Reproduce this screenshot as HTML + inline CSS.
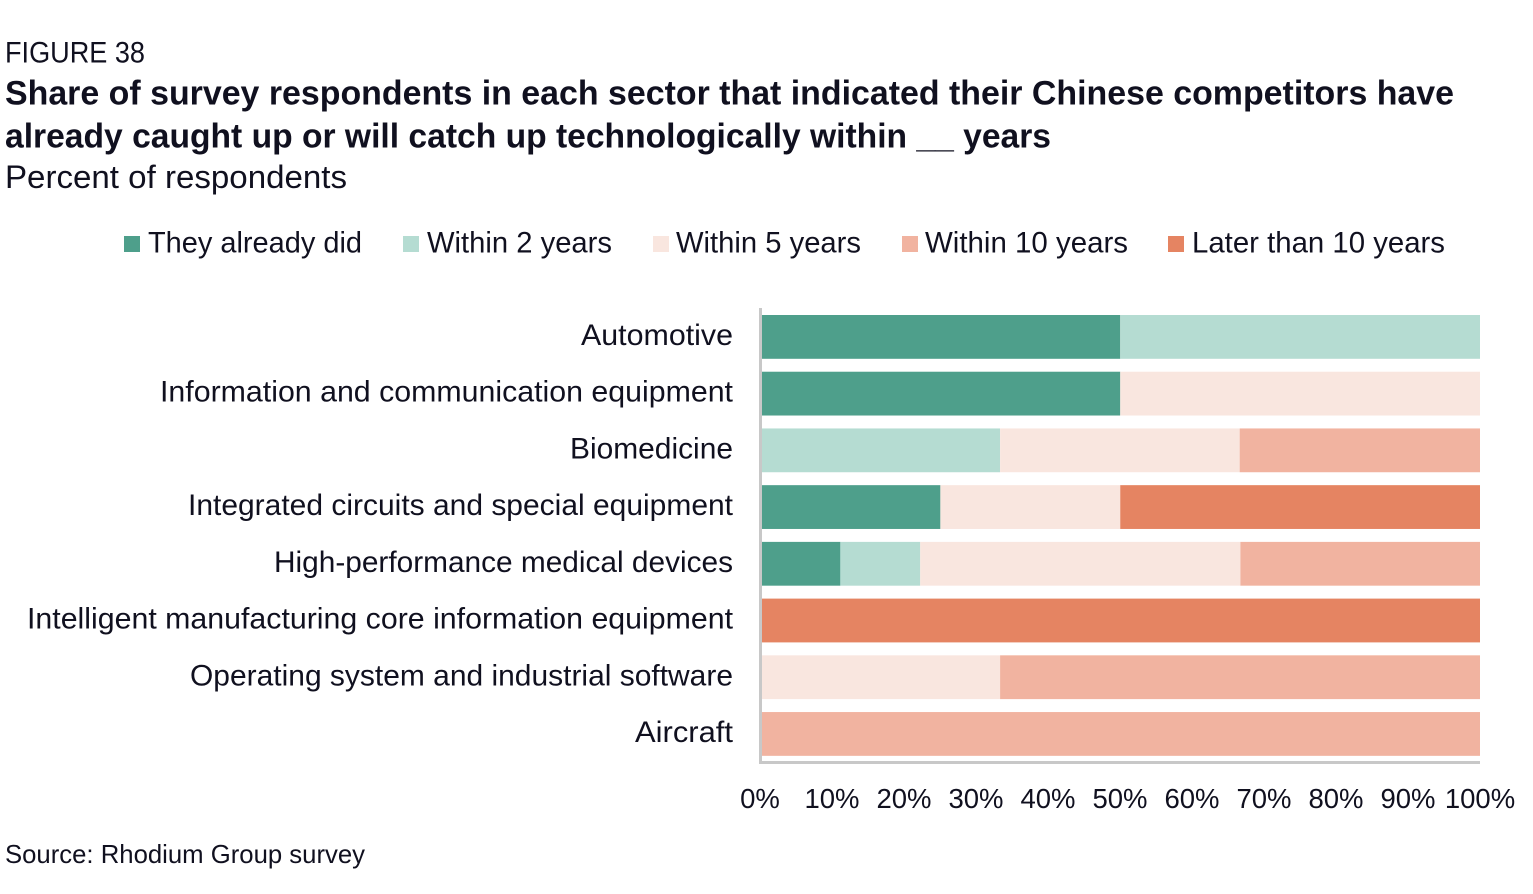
<!DOCTYPE html>
<html lang="en">
<head>
<meta charset="utf-8">
<title>Figure 38</title>
<style>
html,body{margin:0;padding:0;background:#fff;width:1533px;height:894px;overflow:hidden}
svg{display:block}
text{font-family:"Liberation Sans",sans-serif;fill:#10101f}
</style>
</head>
<body>
<svg id="chart" xmlns="http://www.w3.org/2000/svg" width="1533" height="894" viewBox="0 0 1533 894">
  <text x="5" y="62.5" font-size="30" textLength="140" lengthAdjust="spacingAndGlyphs">FIGURE 38</text>
  <text x="5" y="104.5" font-size="34" font-weight="bold" textLength="1449" lengthAdjust="spacingAndGlyphs">Share of survey respondents in each sector that indicated their Chinese competitors have</text>
  <text x="5" y="147.5" font-size="34" font-weight="bold" textLength="1046" lengthAdjust="spacingAndGlyphs">already caught up or will catch up technologically within __ years</text>
  <text x="5" y="188" font-size="32" textLength="342" lengthAdjust="spacingAndGlyphs">Percent of respondents</text>

  <g>
    <rect x="124" y="236" width="16" height="16" fill="#4e9f8b"/>
    <text x="148" y="252.5" font-size="29.5" textLength="214" lengthAdjust="spacingAndGlyphs">They already did</text>
    <rect x="403" y="236" width="16" height="16" fill="#b5dcd2"/>
    <text x="427" y="252.5" font-size="29.5" textLength="185" lengthAdjust="spacingAndGlyphs">Within 2 years</text>
    <rect x="653" y="236" width="16" height="16" fill="#f9e6df"/>
    <text x="676" y="252.5" font-size="29.5" textLength="185" lengthAdjust="spacingAndGlyphs">Within 5 years</text>
    <rect x="902" y="236" width="16" height="16" fill="#f1b3a0"/>
    <text x="925" y="252.5" font-size="29.5" textLength="203" lengthAdjust="spacingAndGlyphs">Within 10 years</text>
    <rect x="1168" y="236" width="16" height="16" fill="#e58462"/>
    <text x="1192" y="252.5" font-size="29.5" textLength="253" lengthAdjust="spacingAndGlyphs">Later than 10 years</text>
  </g>

  <g id="bars"></g>
  <g id="cat-labels"></g>
  <g id="ticks"></g>

  <rect x="759" y="308" width="3" height="456" fill="#c8c8c8"/>
  <rect x="759" y="761" width="721" height="3" fill="#c8c8c8"/>

  <text x="5" y="863" font-size="26" textLength="360" lengthAdjust="spacingAndGlyphs">Source: Rhodium Group survey</text>
</svg>
<script>
const categories = [
  "Automotive",
  "Information and communication equipment",
  "Biomedicine",
  "Integrated circuits and special equipment",
  "High-performance medical devices",
  "Intelligent manufacturing core information equipment",
  "Operating system and industrial software",
  "Aircraft"
];
const alreadyDid = [50, 50, 0, 25, 11.1, 0, 0, 0];
const within2 = [50, 0, 33.3, 0, 11.1, 0, 0, 0];
const within5 = [0, 50, 33.3, 25, 44.5, 0, 33.3, 0];
const within10 = [0, 0, 33.4, 0, 33.3, 0, 66.7, 100];
const later10 = [0, 0, 0, 50, 0, 100, 0, 0];
const tickValues = [0, 10, 20, 30, 40, 50, 60, 70, 80, 90, 100];

const NS = "http://www.w3.org/2000/svg";
const seriesList = [
  {key: "already-did", values: alreadyDid, color: "#4e9f8b"},
  {key: "within-2-years", values: within2, color: "#b5dcd2"},
  {key: "within-5-years", values: within5, color: "#f9e6df"},
  {key: "within-10-years", values: within10, color: "#f1b3a0"},
  {key: "later-than-10-years", values: later10, color: "#e58462"}
];
/* typographic fit for the substitute font: rendered label length by text */
const labelFit = new Map([
  ["Automotive", 152],
  ["Information and communication equipment", 573],
  ["Biomedicine", 163],
  ["Integrated circuits and special equipment", 545],
  ["High-performance medical devices", 459],
  ["Intelligent manufacturing core information equipment", 706],
  ["Operating system and industrial software", 543],
  ["Aircraft", 98]
]);
function xScale(v) { return 760.5 + v * 7.195; }
function yTop(i) { return 315 + i * 56.72; }
const barHeight = 43.8;

const barsG = document.getElementById("bars");
categories.forEach(function (cat, i) {
  let acc = 0;
  seriesList.forEach(function (s) {
    const v = s.values[i];
    if (v > 0) {
      const r = document.createElementNS(NS, "rect");
      
      
      r.setAttribute("x", xScale(acc));
      r.setAttribute("y", yTop(i));
      r.setAttribute("width", xScale(acc + v) - xScale(acc));
      r.setAttribute("height", barHeight);
      r.setAttribute("fill", s.color);
      barsG.appendChild(r);
    }
    acc += v;
  });
});

const labelsG = document.getElementById("cat-labels");
categories.forEach(function (cat, i) {
  const t = document.createElementNS(NS, "text");
  
  
  t.setAttribute("x", 733);
  t.setAttribute("y", yTop(i) + 30);
  t.setAttribute("text-anchor", "end");
  t.setAttribute("font-size", "29.5");
  if (labelFit.has(cat)) {
    t.setAttribute("textLength", labelFit.get(cat));
    t.setAttribute("lengthAdjust", "spacingAndGlyphs");
  }
  t.textContent = cat;
  labelsG.appendChild(t);
});

const ticksG = document.getElementById("ticks");
tickValues.forEach(function (v) {
  const t = document.createElementNS(NS, "text");
  
  
  t.setAttribute("x", 760 + v * 7.2);
  t.setAttribute("y", 808);
  t.setAttribute("text-anchor", "middle");
  t.setAttribute("font-size", "27.5");
  t.textContent = v + "%";
  ticksG.appendChild(t);
});
</script>
</body>
</html>
